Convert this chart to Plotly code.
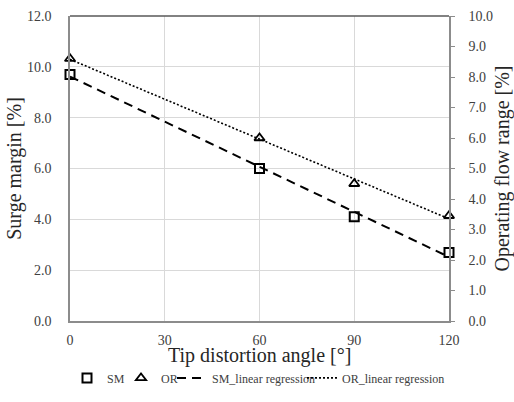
import numpy as np
import plotly.graph_objects as go

# Tip distortion angle [deg]
angles = [0, 60, 90, 120]
# Surge margin [%] (left axis)
surge_margin = [9.7, 6.0, 4.1, 2.7]
# Operating flow range [%] (right axis)
flow_range = [8.6, 6.0, 4.5, 3.45]

x_ticks = [0, 30, 60, 90, 120]
x_title = "Tip distortion angle [°]"

FONT = "Liberation Serif, Times New Roman, DejaVu Serif, serif"
AXIS_GRAY = "#8c8c8c"
GRID_GRAY = "#d9d9d9"

# least-squares fits for both series
sm_fit = np.polyfit(angles, surge_margin, 1)
or_fit = np.polyfit(angles, flow_range, 1)
fit_x = np.array([x_ticks[0], x_ticks[-1]], dtype=float)

fig = go.Figure()

fig.add_trace(go.Scatter(
    x=angles, y=surge_margin, name="SM", mode="markers", legend="legend",
    marker=dict(symbol="square-open", size=9, color="black", line=dict(width=2, color="black")),
    cliponaxis=False,
))
fig.add_trace(go.Scatter(
    x=angles, y=flow_range, name="OR", mode="markers", yaxis="y2", legend="legend2",
    marker=dict(symbol="triangle-up-open", size=9, color="black", line=dict(width=1.8, color="black")),
    cliponaxis=False,
))
fig.add_trace(go.Scatter(
    x=fit_x, y=np.polyval(sm_fit, fit_x), name="SM_linear regression", mode="lines",
    legend="legend3", line=dict(color="black", width=2, dash="9px,6px"),
))
fig.add_trace(go.Scatter(
    x=fit_x, y=np.polyval(or_fit, fit_x), name="OR_linear regression", mode="lines",
    yaxis="y2", legend="legend4", line=dict(color="black", width=1.6, dash="2px,2px"),
))

legend_style = dict(
    orientation="h", xref="container", xanchor="left",
    yref="container", y=0.06, yanchor="middle",
    font=dict(family=FONT, size=12, color="#404040"),
    itemwidth=30, tracegroupgap=0, bgcolor="rgba(0,0,0,0)",
)

fig.update_layout(
    width=514, height=402,
    margin=dict(l=70, r=65, t=16, b=81, autoexpand=False),
    paper_bgcolor="white", plot_bgcolor="white",
    font=dict(family=FONT, color="#404040", size=14),
    showlegend=True,
    legend=dict(x=67 / 514, **legend_style),
    legend2=dict(x=121 / 514, **legend_style),
    legend3=dict(x=172 / 514, **legend_style),
    legend4=dict(x=302 / 514, **legend_style),
    xaxis=dict(
        range=[0, 120], tickvals=x_ticks, showgrid=True, gridcolor=GRID_GRAY, gridwidth=1,
        showline=True, linecolor=AXIS_GRAY, linewidth=1.5, zeroline=False,
        # invisible ticks keep the labels clear of the axis line
        ticks="outside", ticklen=5, tickcolor="rgba(0,0,0,0)",
        tickfont=dict(size=14, color="#404040"), automargin=False,
    ),
    yaxis=dict(
        range=[0, 12], dtick=2, tickformat=".1f", showgrid=True, gridcolor=GRID_GRAY, gridwidth=1,
        showline=True, linecolor=AXIS_GRAY, linewidth=1.5, zeroline=False, ticks="",
        tickfont=dict(size=14, color="#404040"), ticklabelstandoff=14, automargin=False,
        title=dict(text="Surge margin [%]", font=dict(size=20, color="#262626"), standoff=0),
    ),
    yaxis2=dict(
        range=[0, 10], dtick=1, tickformat=".1f", overlaying="y", side="right",
        showgrid=False, showline=True, linecolor=AXIS_GRAY, linewidth=1.5, zeroline=False,
        ticks="outside", ticklen=4, tickcolor=AXIS_GRAY, automargin=False,
        tickfont=dict(size=14, color="#404040"), ticklabelstandoff=11,
        title=dict(text="Operating flow range [%]", font=dict(size=20, color="#262626"), standoff=19),
    ),
    # x-axis title placed below the tick labels
    annotations=[dict(
        text=x_title, xref="paper", yref="paper", x=0.5, y=-0.113,
        xanchor="center", yanchor="middle", showarrow=False,
        font=dict(family=FONT, size=20, color="#262626"),
    )],
    shapes=[dict(type="line", xref="paper", yref="paper", x0=0, x1=1, y0=1, y1=1,
                 line=dict(color="#595959", width=1.5))],
)

fig.write_html("out.html")
